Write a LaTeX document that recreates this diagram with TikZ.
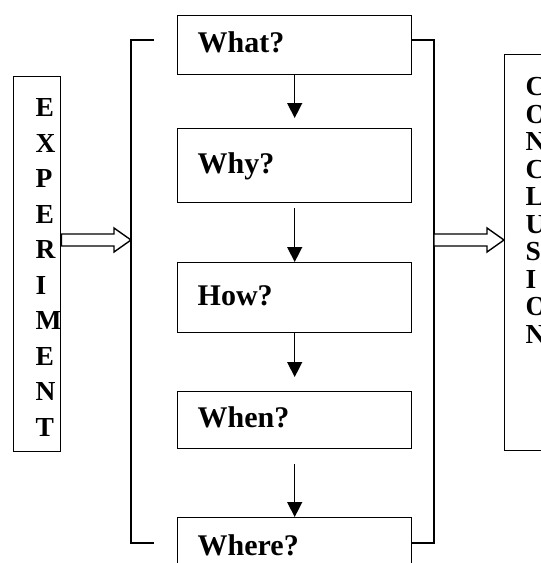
\documentclass[tikz,border=0pt]{standalone}
\usepackage{fontspec}
\setmainfont{Liberation Serif}
\usetikzlibrary{arrows.meta,calc,scopes}

\begin{document}
\begin{tikzpicture}[x=0.5pt,y=-0.5pt,line width=0.7pt,
    q/.style={rectangle,draw=black,anchor=north west,minimum width=117pt,text width=97pt,inner xsep=10pt,align=left,
      font=\fontsize{15}{18}\selectfont\bfseries,text height=10.35pt,text depth=3pt},
    side/.style={rectangle,draw=black,anchor=north west,inner sep=0pt},
    letters/.style={anchor=north west,inner sep=0pt,align=left,font=\fontsize{13.75}{#1}\selectfont\bfseries},
    blk/.style={draw=black,fill=white,line width=0.7pt}]
        \useasboundingbox (0,0) rectangle (541,563);
        \clip (0,0) rectangle (541,563);

        % questions
        \node[q,minimum height=29.5pt] (what) at (177,15) {What?};
        \node[q,minimum height=37pt] (why) at (177,128) {Why?};
        \node[q,minimum height=35pt] (how) at (177,262) {How?};
        \node[q,minimum height=28.5pt] (when) at (177,391) {When?};
        \node[q,minimum height=30.5pt] (where) at (177,517) {Where?};

        {[-{Triangle[width=7.5pt,length=7.5pt]}]
        \draw[shorten >=5pt] (what) -- (why);
        \draw[shorten <=2.5pt] (why) -- (how);
        \draw[shorten >=7pt] (how) -- (when);
        \draw[shorten <=7.5pt] (when) -- (where);
        }

        % brackets
        \draw (154,40) -- (131,40) -- (131,543) -- (154,543);
        \draw (411,40) -- (434,40) -- (434,543) -- (411,543);
        \coordinate (inL) at (131,240);
        \coordinate (outR) at (434,240);

        % side boxes
        \node[side,minimum width=23.5pt,minimum height=187.5pt] (exp) at (13,76) {};
        \node[letters=17.75pt] (exptxt) at (35,98) {E\\X\\P\\E\\R\\I\\M\\E\\N\\T};
        \node[side,minimum width=30pt,minimum height=198pt] (concl) at (504,54) {};
        \node[letters=13.75pt] (concltxt) at (525,77) {C\\O\\N\\C\\L\\U\\S\\I\\O\\N};

        \draw[blk] let \p1=(exp.east |- inL), \p2=(inL) in
            (\x1,\y1+3pt) -- (\x2-8.5pt,\y1+3pt) -- (\x2-8.5pt,\y1+6pt) -- (\x2,\y1)
            -- (\x2-8.5pt,\y1-6pt) -- (\x2-8.5pt,\y1-3pt) -- (\x1,\y1-3pt) -- cycle;
        \draw[blk] let \p1=(outR), \p2=(concl.west |- outR) in
            (\x1,\y1+3pt) -- (\x2-8.5pt,\y1+3pt) -- (\x2-8.5pt,\y1+6pt) -- (\x2,\y1)
            -- (\x2-8.5pt,\y1-6pt) -- (\x2-8.5pt,\y1-3pt) -- (\x1,\y1-3pt) -- cycle;
    \end{tikzpicture}
\end{document}
